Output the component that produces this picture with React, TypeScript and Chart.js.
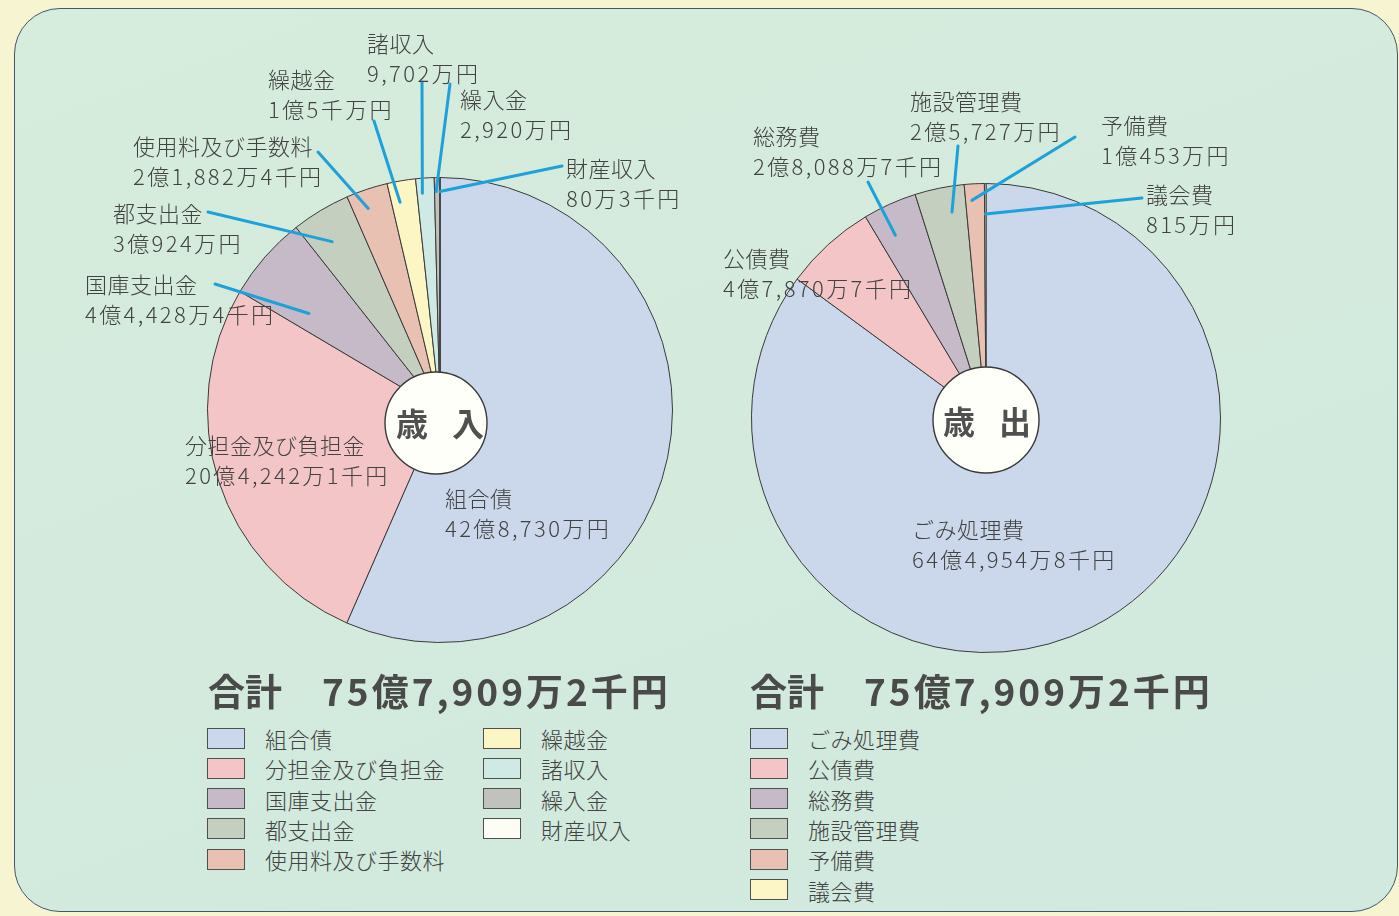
import React, { useEffect, useRef } from "react";
import { Chart, registerables } from "chart.js";

Chart.register(...registerables);

// ---------- data ----------
const revenueCategories = ["組合債", "分担金及び負担金", "国庫支出金", "都支出金", "使用料及び手数料", "繰越金", "諸収入", "繰入金", "財産収入"];
// 万円
const revenueValues = [428730, 204242.1, 44428.4, 30924, 21882.4, 15000, 9702, 2920, 80.3];
const revenueAmounts = ["42億8,730万円", "20億4,242万1千円", "4億4,428万4千円", "3億924万円", "2億1,882万4千円", "1億5千万円", "9,702万円", "2,920万円", "80万3千円"];

const expenditureCategories = ["ごみ処理費", "公債費", "総務費", "施設管理費", "予備費", "議会費"];
const expenditureValues = [644954.8, 47870.7, 28088.7, 25727, 10453, 815];
const expenditureAmounts = ["64億4,954万8千円", "4億7,870万7千円", "2億8,088万7千円", "2億5,727万円", "1億453万円", "815万円"];

const totalLabel = "合計";
const totalAmount = "75億7,909万2千円";
const revenueTitle = ["歳", "入"];
const expenditureTitle = ["歳", "出"];

// ---------- styles ----------
const revenueColors = ["#cbd7ea", "#f4c5c7", "#c6bac9", "#c4cfbf", "#e9c1b2", "#fbf6c4", "#cfeae4", "#c1c2be", "#fdfdf6"];
const expenditureColors = ["#cbd7ea", "#f4c5c7", "#c6bac9", "#c4cfbf", "#e9c1b2", "#fbf6c4"];

const FONT = '"Noto Sans CJK JP", "Noto Sans", sans-serif';
const TEXT = "#424242";
const LEADER = "#1ea1d9";

// label placement (page coords): x, y = centre of first line
const revenueLabelPos = [
  { x: 445, y: 497 },
  { x: 185, y: 444 },
  { x: 85, y: 283 },
  { x: 113, y: 212 },
  { x: 133, y: 145 },
  { x: 268, y: 78 },
  { x: 367, y: 42 },
  { x: 460, y: 98 },
  { x: 566, y: 167 },
];
const revenueLeaders = [
  { index: 2, ax: 215, ay: 284, t: 0.27, f: 0.7 },
  { index: 3, ax: 208, ay: 212, t: 0.38, f: 0.86 },
  { index: 4, ax: 318, ay: 152, t: 0.38, f: 0.92 },
  { index: 5, ax: 374, ay: 121, t: 0.32, f: 0.91 },
  { index: 6, ax: 422, ay: 82, t: 0.3, f: 0.935 },
  { index: 7, ax: 450, ay: 84, t: 0.3, f: 0.94 },
  { index: 8, ax: 562, ay: 166, t: 0.5, f: 0.94 },
];
const expenditureLabelPos = [
  { x: 912, y: 528 },
  { x: 723, y: 257 },
  { x: 753, y: 135 },
  { x: 910, y: 100 },
  { x: 1101, y: 124 },
  { x: 1146, y: 193 },
];
const expenditureLeaders = [
  { index: 2, ax: 868, ay: 182, t: 0.34, f: 0.87 },
  { index: 3, ax: 958, ay: 146, t: 0.67, f: 0.89 },
  { index: 4, ax: 1075, ay: 137, t: 0.33, f: 0.93 },
  { index: 5, ax: 1142, ay: 198, t: 0.5, f: 0.87 },
];

type Leader = { index: number; ax: number; ay: number; t: number; f: number };

function makeOverlay(offsetX: number, offsetY: number, leaders: Leader[], circle: { dx: number; dy: number; r: number }) {
  return {
    id: "overlay",
    afterDatasetsDraw(chart: any) {
      const ctx = chart.ctx as CanvasRenderingContext2D;
      const meta = chart.getDatasetMeta(0);
      const first = meta.data[0];
      ctx.save();
      // centre circle
      ctx.beginPath();
      ctx.arc(first.x + circle.dx, first.y + circle.dy, circle.r, 0, Math.PI * 2);
      ctx.fillStyle = "#fffffa";
      ctx.fill();
      ctx.lineWidth = 1.4;
      ctx.strokeStyle = "#3a3a3a";
      ctx.stroke();
      // leader lines
      ctx.strokeStyle = LEADER;
      ctx.lineWidth = 3;
      ctx.lineCap = "round";
      leaders.forEach((l) => {
        const arc = meta.data[l.index];
        const p = arc.getProps(["x", "y", "startAngle", "endAngle", "outerRadius"], true);
        const a = p.startAngle + (p.endAngle - p.startAngle) * l.t;
        const ex = p.x + Math.cos(a) * p.outerRadius * l.f;
        const ey = p.y + Math.sin(a) * p.outerRadius * l.f;
        ctx.beginPath();
        ctx.moveTo(l.ax - offsetX, l.ay - offsetY);
        ctx.lineTo(ex, ey);
        ctx.stroke();
      });
      ctx.restore();
    },
  };
}

function buildPie(
  canvas: HTMLCanvasElement,
  labels: string[],
  values: number[],
  colors: string[],
  padding: { left: number; right: number; top: number; bottom: number },
  plugin: any
) {
  return new Chart(canvas, {
    type: "pie",
    data: {
      labels,
      datasets: [
        {
          data: values,
          backgroundColor: colors,
          borderColor: "#3a3a3a",
          borderWidth: 1,
        },
      ],
    },
    options: {
      responsive: false,
      animation: false,
      layout: { padding },
      plugins: {
        legend: { display: false },
        tooltip: { enabled: false },
      },
    },
    plugins: [plugin],
  });
}

const labelStyle = (x: number, y: number): React.CSSProperties => ({
  position: "absolute",
  left: x,
  top: y - 15,
  fontFamily: FONT,
  fontSize: 22,
  fontWeight: 300,
  lineHeight: "30px",
  color: TEXT,
  whiteSpace: "nowrap",
  zIndex: 3,
});

function PieLabels({ cats, amounts, pos }: { cats: string[]; amounts: string[]; pos: { x: number; y: number }[] }) {
  return (
    <>
      {cats.map((c, i) => (
        <div key={c} style={labelStyle(pos[i].x, pos[i].y)}>
          <div style={{ letterSpacing: 0.5 }}>{c}</div>
          <div style={{ letterSpacing: 2.4 }}>{amounts[i]}</div>
        </div>
      ))}
    </>
  );
}

function Legend({ cats, colors, x, y, perCol, colGap }: { cats: string[]; colors: string[]; x: number; y: number; perCol: number; colGap: number }) {
  return (
    <>
      {cats.map((c, i) => {
        const col = Math.floor(i / perCol);
        const row = i % perCol;
        const top = y + row * 30.3;
        const left = x + col * colGap;
        return (
          <div key={c} style={{ position: "absolute", left, top: top - 15, height: 30, display: "flex", alignItems: "center", zIndex: 3 }}>
            <div
              style={{
                width: 38,
                height: 21,
                boxSizing: "border-box",
                border: "1.5px solid #4f4f4f",
                background: colors[i],
              }}
            />
            <div
              style={{
                marginLeft: 20,
                fontFamily: FONT,
                fontSize: 22,
                fontWeight: 300,
                color: TEXT,
                letterSpacing: 0.5,
                whiteSpace: "nowrap",
              }}
            >
              {c}
            </div>
          </div>
        );
      })}
    </>
  );
}

function CenterTitle({ chars, cx, cy }: { chars: string[]; cx: number; cy: number }) {
  return (
    <div
      style={{
        position: "absolute",
        left: cx - 60,
        top: cy - 25,
        width: 120,
        height: 50,
        display: "flex",
        justifyContent: "center",
        alignItems: "center",
        gap: 24,
        fontFamily: FONT,
        fontWeight: 700,
        fontSize: 32,
        color: "#505050",
        zIndex: 3,
      }}
    >
      <span>{chars[0]}</span>
      <span>{chars[1]}</span>
    </div>
  );
}

function Total({ x, y }: { x: number; y: number }) {
  const s: React.CSSProperties = {
    position: "absolute",
    top: y - 27,
    lineHeight: "54px",
    fontFamily: FONT,
    fontWeight: 700,
    fontSize: 37,
    color: "#4a4a4a",
    whiteSpace: "nowrap",
    zIndex: 3,
  };
  return (
    <>
      <div style={{ ...s, left: x - 2 }}>{totalLabel}</div>
      <div style={{ ...s, left: x + 112, letterSpacing: 3 }}>{totalAmount}</div>
    </>
  );
}

export default function App() {
  const leftRef = useRef<HTMLCanvasElement>(null);
  const rightRef = useRef<HTMLCanvasElement>(null);

  useEffect(() => {
    const left = buildPie(
      leftRef.current!,
      revenueCategories,
      revenueValues,
      revenueColors,
      { left: 207, right: 27, top: 177, bottom: 57 },
      makeOverlay(0, 0, revenueLeaders, { dx: -4, dy: 13, r: 51 })
    );
    const right = buildPie(
      rightRef.current!,
      expenditureCategories,
      expenditureValues,
      expenditureColors,
      { left: 51, right: 178, top: 183, bottom: 47 },
      makeOverlay(700, 0, expenditureLeaders, { dx: 0, dy: 2, r: 53 })
    );
    return () => {
      left.destroy();
      right.destroy();
    };
  }, []);

  return (
    <div
      style={{
        position: "fixed",
        left: 0,
        top: 0,
        width: 1399,
        height: 916,
        background: "#f7f5d1",
        overflow: "hidden",
      }}
    >
      <div
        style={{
          position: "absolute",
          left: 14,
          top: 8,
          width: 1384,
          height: 904,
          boxSizing: "border-box",
          border: "1.5px solid #45566a",
          borderRadius: 46,
          background: "linear-gradient(160deg, #d6ecdc 0%, #d3eadd 50%, #d1e9df 100%)",
        }}
      />
      <canvas ref={leftRef} width={700} height={700} style={{ position: "absolute", left: 0, top: 0, zIndex: 2 }} />
      <canvas ref={rightRef} width={699} height={700} style={{ position: "absolute", left: 700, top: 0, zIndex: 2 }} />

      <PieLabels cats={revenueCategories} amounts={revenueAmounts} pos={revenueLabelPos} />
      <PieLabels cats={expenditureCategories} amounts={expenditureAmounts} pos={expenditureLabelPos} />

      <CenterTitle chars={revenueTitle} cx={440} cy={422} />
      <CenterTitle chars={expenditureTitle} cx={987} cy={420} />

      <Total x={210} y={690} />
      <Total x={752} y={690} />

      <Legend cats={revenueCategories} colors={revenueColors} x={207} y={738} perCol={5} colGap={276} />
      <Legend cats={expenditureCategories} colors={expenditureColors} x={750} y={738} perCol={6} colGap={276} />
    </div>
  );
}
